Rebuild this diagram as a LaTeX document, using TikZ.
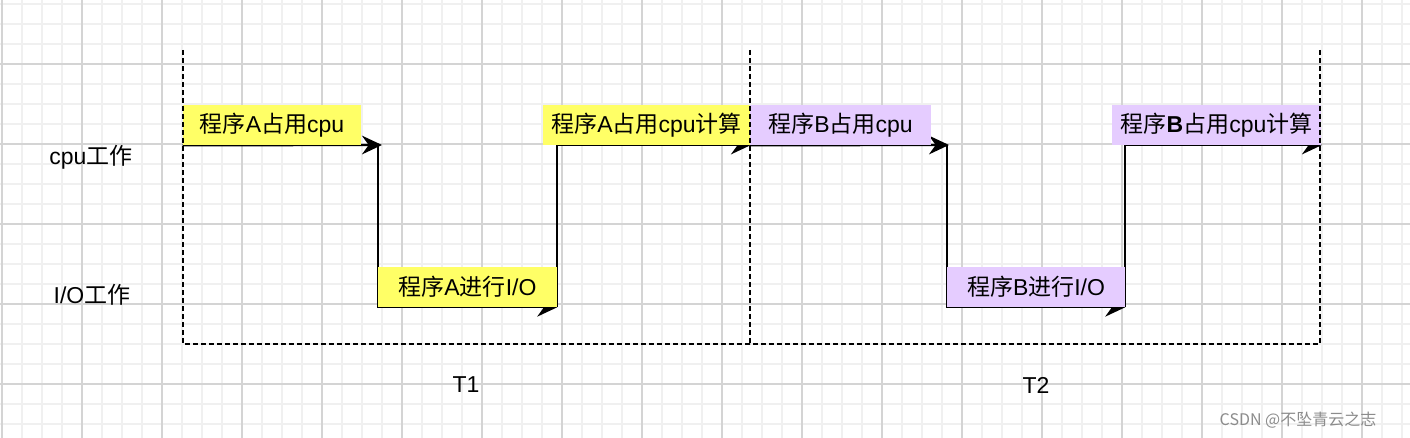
\documentclass[tikz,border=0pt]{standalone}
\usepackage{fontspec}
\setmainfont{Liberation Sans}
\newfontfamily\cjk{Noto Sans CJK SC}
\usetikzlibrary{arrows.meta}
\newcommand\zh[1]{{\cjk #1}}
\pgfdeclarelayer{bg}\pgfdeclarelayer{mid}\pgfdeclarelayer{fg}
\pgfsetlayers{bg,mid,main,fg}
\definecolor{ylw}{HTML}{FFFF66}
\definecolor{prp}{HTML}{E5CCFF}
\definecolor{minorg}{HTML}{F0F0F0}
\definecolor{majorg}{HTML}{D4D4D4}
\definecolor{wmk}{HTML}{8C8C8C}
\begin{document}
\begin{tikzpicture}[x=0.75pt,y=-0.75pt,
  txt/.style={font=\fontsize{17.25}{20}\selectfont, text=black, inner sep=0pt},
  box/.style={txt, minimum height=30pt},
  ybox/.style={box, fill=ylw},
  pbox/.style={box, fill=prp},
  arr/.style={line width=1.7pt, -{Stealth[length=15pt,width=14pt,inset=5pt]}},
  dsh/.style={line width=2.2pt, dash pattern=on 3.6pt off 2.4pt}]
\useasboundingbox (0,0) rectangle (1410,438);
\begin{pgfonlayer}{bg}
  \fill[white] (0,0) rectangle (1410,438);
  \foreach \x in {2,22,...,1402} \draw[minorg, line width=0.9pt] (\x,0) -- (\x,438);
  \foreach \y in {4,24,...,438} \draw[minorg, line width=0.9pt] (0,\y) -- (1410,\y);
  \foreach \x in {2,82,...,1402} \draw[majorg, line width=0.9pt] (\x,0) -- (\x,438);
  \foreach \y in {64,144,...,438} \draw[majorg, line width=0.9pt] (0,\y) -- (1410,\y);
\end{pgfonlayer}

% row labels
\node[txt] (cpu) at (91,157) {cpu\zh{工作}};
\node[txt] (io) at (92,295) {I/O\zh{工作}};
\node[txt] (t1) at (466,385) {T1};
\node[txt] (t2) at (1036,385) {T2};

% boxes
\node[ybox, minimum width=133.5pt] (a1) at (272,125) {\zh{程序}A\zh{占用}cpu};
\node[ybox, minimum width=134.25pt] (a2) at (467.5,287) {\zh{程序}A\zh{进行}I/O};
\node[ybox, minimum width=155.25pt] (a3) at (646.5,125) {\zh{程序}A\zh{占用}cpu\zh{计算}};
\node[pbox, minimum width=135.75pt] (b1) at (840.5,125) {\zh{程序}B\zh{占用}cpu};
\node[pbox, minimum width=133.5pt] (b2) at (1036,287) {\zh{程序}B\zh{进行}I/O};
\node[pbox, minimum width=156.75pt] (b3) at (1216.5,125) {\zh{程序}\textbf{B}\zh{占用}cpu\zh{计算}};

% connectors
\coordinate (pa) at (382,145);
\coordinate (pb) at (949,145);
\coordinate (ea) at (751,145);
\coordinate (eb) at (1322,145);
\begin{pgfonlayer}{mid}
  \draw[arr] (a1.south west) -- (pa);
  \draw[arr] (a2.south west |- a1.south) -- (a2.south west) -- (a2.south east);
  \draw[arr] (a2.south east) |- (ea);
  \draw[arr] (b1.south west) -- (pb);
  \draw[arr] (b2.south west |- b1.south) -- (b2.south west) -- (b2.south east);
  \draw[arr] (b2.south east) |- (eb);
\end{pgfonlayer}

% dashed frames
\coordinate (l0) at (183,50);
\coordinate (l1) at (183,344);
\coordinate (m0) at (750,50);
\coordinate (m1) at (750,344);
\coordinate (r0) at (1320,50);
\coordinate (r1) at (1320,344);
\begin{pgfonlayer}{fg}
  \draw[dsh] (l0) -- (l1) -- (m1);
  \draw[dsh] (m0) -- (m1);
  \draw[dsh] (r0) -- (r1) -- (m1);
\end{pgfonlayer}

\node[inner sep=0pt, text=wmk, font=\cjk\fontsize{12}{14}\selectfont] (csdn) at (1298,420) {CSDN @不坠青云之志};
\end{tikzpicture}
\end{document}
